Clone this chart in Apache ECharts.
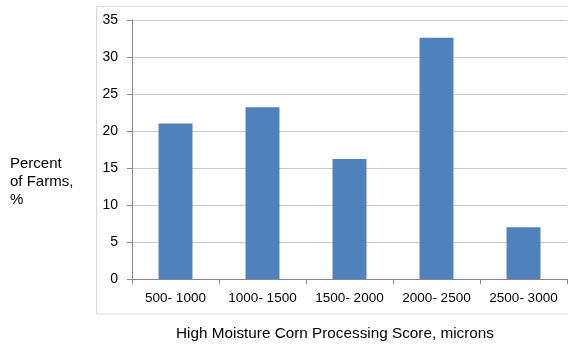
<!DOCTYPE html>
<html><head><meta charset="utf-8">
<script src="https://cdn.jsdelivr.net/npm/echarts@6/dist/echarts.min.js"></script>
<style>html,body{margin:0;padding:0;background:#fff}#c{width:568px;height:345px}</style>
</head><body><div id="c"></div>
<script>
const categories = ['500- 1000','1000- 1500','1500- 2000','2000- 2500','2500- 3000'];
const values = [21.0, 23.2, 16.2, 32.6, 7.0];
const yTicks = [0,5,10,15,20,25,30,35];

const chart = echarts.init(document.getElementById('c'));
chart.setOption({
  animation:false,
  textStyle:{fontFamily:'Liberation Sans, Arial, sans-serif'},
  graphic:[
    {type:'rect',shape:{x:96.5,y:6.5,width:480,height:307.5},style:{fill:'none',stroke:'#d9d9d9',lineWidth:1},z:-1},
    {type:'text',left:10,top:155,style:{text:'Percent\nof Farms,\n%',fontSize:15,lineHeight:18,fill:'#000',fontFamily:'Liberation Sans, Arial, sans-serif'}},
    {type:'text',x:335,y:334,style:{text:'High Moisture Corn Processing Score, microns',fontSize:15.3,fill:'#000',align:'center',verticalAlign:'middle',fontFamily:'Liberation Sans, Arial, sans-serif'}}
  ],
  grid:{left:132,top:20,right:1,bottom:66,containLabel:false},
  xAxis:{type:'category',data:categories,
    axisLine:{lineStyle:{color:'#888',width:1}},
    axisTick:{show:true,alignWithLabel:false,length:5,lineStyle:{color:'#888'}},
    axisLabel:{color:'#000',fontSize:13.5,margin:12,interval:0,hideOverlap:false}},
  yAxis:{type:'value',min:0,max:35,interval:5,
    axisLine:{show:true,lineStyle:{color:'#888'}},
    axisTick:{show:true,length:5,lineStyle:{color:'#888'}},
    splitLine:{lineStyle:{color:'#c8c8c8',width:1}},
    axisLabel:{color:'#000',fontSize:14,margin:14,formatter:v=>yTicks.includes(v)?String(v):''}},
  series:[{type:'bar',data:values,barWidth:'39%',itemStyle:{color:'#4F81BD'}}]
});
</script></body></html>
